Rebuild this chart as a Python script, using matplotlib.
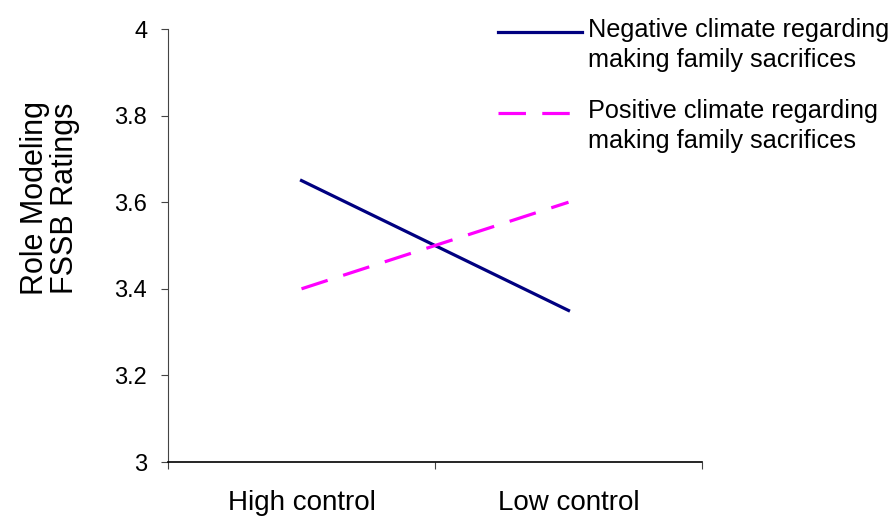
import numpy as np
import matplotlib.pyplot as plt
from matplotlib.legend_handler import HandlerLine2D

plt.rcParams['font.family'] = ['Liberation Sans', 'DejaVu Sans']

# Data
categories = ['High control', 'Low control']
negative = [3.65, 3.35]
positive = [3.40, 3.60]
labels = ['Negative climate regarding\nmaking family sacrifices',
          'Positive climate regarding\nmaking family sacrifices']
y_ticks = [3, 3.2, 3.4, 3.6, 3.8, 4]
y_tick_labels = ['3', '3.2', '3.4', '3.6', '3.8', '4']

x_pos = [0.5, 1.5]


# legend handle lined up with the first line of the label
class FirstLineHandler(HandlerLine2D):
    def create_artists(self, legend, orig_handle, xdescent, ydescent,
                       width, height, fontsize, trans):
        artists = super().create_artists(legend, orig_handle, xdescent, ydescent,
                                         width, height, fontsize, trans)
        for a in artists:
            a.set_ydata(np.asarray(a.get_ydata()) + 0.55 * fontsize)
        return artists


fig = plt.figure(figsize=(8.96, 5.21), dpi=100)
ax = fig.add_axes([0.1875, 0.1132, 0.596, 0.8311])

ax.plot(x_pos, negative, color='#000080', linewidth=2.3, label=labels[0])
ax.plot(x_pos, positive, color='#FF00FF', linewidth=2.3, dashes=(8.6, 5.1), label=labels[1])

ax.set_xlim(0, 2)
ax.set_ylim(3, 4)
ax.set_yticks(y_ticks)
ax.set_yticklabels(y_tick_labels)
ax.set_xticks([0, 1, 2])
ax.set_xticklabels([])
ax.set_xticks(x_pos, minor=True)
ax.set_xticklabels(categories, minor=True)
ax.tick_params(axis='x', which='minor', length=0, pad=20, labelsize=20)
ax.tick_params(axis='x', which='major', length=5, width=0.8, color='#444444')
ax.tick_params(axis='y', length=5, width=0.8, color='#444444', labelsize=17, pad=10)

for side in ['top', 'right']:
    ax.spines[side].set_visible(False)
ax.spines['left'].set_color('#444444')
ax.spines['left'].set_linewidth(0.8)
ax.spines['bottom'].set_linewidth(1.2)

ax.set_ylabel('Role Modeling\nFSSB Ratings', fontsize=22, linespacing=1.0)
ax.yaxis.set_label_coords(-0.165, 0.61)

fig.legend(loc='upper left', bbox_to_anchor=(0.556, 0.965), frameon=False,
           fontsize=18.2, handlelength=3.3, handletextpad=0.24, labelspacing=1.07,
           borderaxespad=0, borderpad=0,
           handler_map={plt.Line2D: FirstLineHandler()})
for t in fig.legends[0].get_texts():
    t.set_linespacing(1.3)

plt.savefig('out.png', dpi=100)
